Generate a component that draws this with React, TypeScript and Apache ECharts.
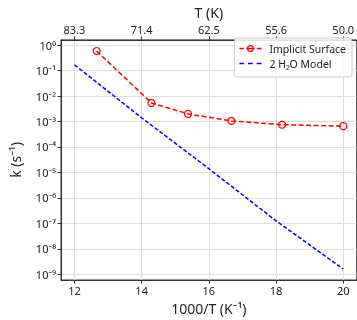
import React, { useEffect, useRef } from "react";
import * as echarts from "echarts";

// 1000/T (K^-1) and rate constants k (s^-1)
const implicitX = [12.66, 14.29, 15.38, 16.67, 18.18, 20.0];
const implicitK = [0.59, 5.4e-3, 2.0e-3, 1.06e-3, 7.5e-4, 6.6e-4];
const waterX = [12, 14, 16, 18, 20];
const waterK = [0.17, 1.4e-3, 1.4e-5, 1.25e-7, 1.6e-9];
const xTicks = [12, 14, 16, 18, 20];
const yTicks = [1e-9, 1e-8, 1e-7, 1e-6, 1e-5, 1e-4, 1e-3, 1e-2, 1e-1, 1];
const seriesNames = ["Implicit Surface", "2 H\u2082O Model"];

const SUP: Record<string, string> = {
  "-": "\u207B", "0": "\u2070", "1": "\u00B9", "2": "\u00B2", "3": "\u00B3",
  "4": "\u2074", "5": "\u2075", "6": "\u2076", "7": "\u2077", "8": "\u2078", "9": "\u2079",
};
const sup = (n: number) => String(n).split("").map((c) => SUP[c] ?? c).join("");

const FONT = "'Noto Sans', 'DejaVu Sans', sans-serif";
const AXIS_COLOR = "#333";
const GRID_COLOR = "#dedede";

// legend icons: dashed line with open circle, and plain dashed line
const ICON_RED =
  "path://M0,2.75H4.6V4.25H0Z M6.8,2.75H15.2V4.25H6.8Z M17.4,2.75H22V4.25H17.4Z " +
  "M11,0A3.5,3.5 0 1,1 11,7A3.5,3.5 0 1,1 11,0Z M11,1.2A2.3,2.3 0 1,0 11,5.8A2.3,2.3 0 1,0 11,1.2Z";
const ICON_BLUE =
  "path://M0,0H4.8V1.5H0Z M8.6,0H13.4V1.5H8.6Z M17.2,0H22V1.5H17.2Z";

export default function App() {
  const ref = useRef<HTMLDivElement>(null);
  useEffect(() => {
    document.body.style.margin = "0";
    const chart = echarts.init(ref.current!, null, { renderer: "svg" });
    const xMin = 11.6, xMax = 20.4;
    const common = {
      type: "value",
      min: xMin,
      max: xMax,
      axisLine: { show: true, lineStyle: { color: AXIS_COLOR, width: 1 } },
      axisTick: { show: true, length: 3.5, inside: false, customValues: xTicks, lineStyle: { color: AXIS_COLOR, width: 1 } },
    };
    chart.setOption({
      animation: false,
      textStyle: { fontFamily: FONT },
      grid: { left: 57.5, right: 0, top: 33.5, bottom: 38, show: true, borderColor: AXIS_COLOR, borderWidth: 1, containLabel: false },
      legend: {
        data: [
          { name: seriesNames[0], icon: ICON_RED, itemStyle: { color: "#ff0000", borderWidth: 0 } },
          { name: seriesNames[1], icon: ICON_BLUE, itemStyle: { color: "#0000ff", borderWidth: 0 } },
        ],
        right: 5,
        top: 38,
        orient: "vertical",
        itemWidth: 22,
        itemHeight: 11,
        itemGap: 4,
        padding: [5, 6, 8, 5],
        borderColor: "#cccccc",
        borderWidth: 1,
        borderRadius: 3,
        backgroundColor: "rgba(255,255,255,0.85)",
        textStyle: { fontSize: 10.5, color: "#222", fontFamily: FONT, padding: [0, 0, 0, 3] },
      },
      xAxis: [
        {
          ...common,
          position: "bottom",
          name: "1000/T (K\u207B\u00B9)",
          nameLocation: "middle",
          nameGap: 21,
          nameTextStyle: { fontSize: 14, color: "#222", fontFamily: FONT },
          axisLabel: { customValues: xTicks, fontSize: 11, color: "#222", margin: 5, fontFamily: FONT },
          splitLine: { show: true, lineStyle: { color: GRID_COLOR, width: 1 } },
        },
        {
          ...common,
          position: "top",
          name: "T (K)",
          nameLocation: "middle",
          nameGap: 20,
          nameTextStyle: { fontSize: 14, color: "#222", fontFamily: FONT },
          axisLabel: {
            customValues: xTicks,
            fontSize: 11,
            color: "#222",
            margin: 5,
            fontFamily: FONT,
            formatter: (v: number) => (1000 / v).toFixed(1),
          },
          splitLine: { show: false },
        },
      ],
      yAxis: {
        type: "log",
        logBase: 10,
        min: Math.pow(10, -9.228),
        max: Math.pow(10, 0.209),
        name: "k (s\u207B\u00B9)",
        nameLocation: "middle",
        nameGap: 39,
        nameRotate: 90,
        nameTextStyle: { fontSize: 14, color: "#222", fontFamily: FONT },
        axisLine: { show: true, lineStyle: { color: AXIS_COLOR, width: 1 } },
        axisTick: { show: true, length: 3.5, customValues: yTicks, lineStyle: { color: AXIS_COLOR, width: 1 } },
        minorTick: { show: false },
        axisLabel: {
          customValues: yTicks,
          fontSize: 11,
          color: "#222",
          margin: 5,
          fontFamily: FONT,
          formatter: (v: number) => "10" + sup(Math.round(Math.log10(v))),
        },
        splitLine: { show: true, lineStyle: { color: GRID_COLOR, width: 1 } },
      },
      series: [
        {
          name: seriesNames[0],
          type: "line",
          xAxisIndex: 0,
          data: implicitX.map((x, i) => [x, implicitK[i]]),
          symbol: "circle",
          symbolSize: 7,
          color: "#ff0000",
          itemStyle: { color: "rgba(255,255,255,0)", borderColor: "#ff0000", borderWidth: 1.2 },
          lineStyle: { color: "#ff0000", width: 1.5, type: [5, 2.5] },
          z: 3,
        },
        {
          name: seriesNames[1],
          type: "line",
          xAxisIndex: 0,
          data: waterX.map((x, i) => [x, waterK[i]]),
          symbol: "none",
          color: "#0000ff",
          lineStyle: { color: "#0000ff", width: 1.5, type: [4, 2] },
          z: 2,
        },
      ],
    });
    return () => chart.dispose();
  }, []);
  return <div ref={ref} style={{ position: "fixed", left: 0, top: 0, width: 357, height: 320 }} />;
}
